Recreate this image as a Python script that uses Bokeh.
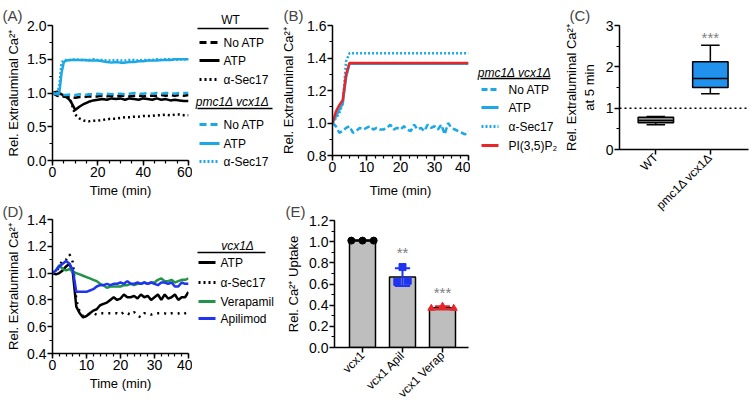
import math
from bokeh.plotting import figure
from bokeh.models import Range1d, SingleIntervalTicker, FixedTicker, NumeralTickFormatter
from bokeh.layouts import row, column
from bokeh.embed import file_html
from bokeh.resources import INLINE
from bokeh.core.properties import value

FONT = "Liberation Sans"
BLACK = "#000000"
SKY = "#1CA8E4"
RED = "#E8262A"
GREEN = "#23924A"
BLUE = "#1E34F0"
BOXBLUE = "#2092EE"
BAR_GRAY = "#BEBEBE"
STAR = "#808080"
EPS = 1e-6

# ---------------- Panel A data ----------------
a_time = [0, 2, 4, 6, 8, 10, 12, 14, 16, 18, 20, 22, 24, 26, 28, 30, 32, 34, 36, 38, 40,
          42, 44, 46, 48, 50, 52, 54, 56, 58, 60]
a_wt_noatp = [1.00, 0.96, 0.95, 0.94, 0.94, 0.93, 0.94, 0.94, 0.95, 0.95, 0.95, 0.96, 0.95, 0.96,
              0.95, 0.96, 0.96, 0.95, 0.96, 0.96, 0.95, 0.96, 0.96, 0.96, 0.97, 0.96, 0.97, 0.96,
              0.97, 0.96, 0.97]
a_wt_atp = [1.00, 1.02, 0.98, 0.95, 0.88, 0.75, 0.80, 0.84, 0.87, 0.89, 0.90, 0.91, 0.90, 0.92,
            0.91, 0.92, 0.90, 0.92, 0.91, 0.90, 0.92, 0.91, 0.90, 0.92, 0.90, 0.91, 0.89, 0.90,
            0.89, 0.88, 0.88]
a_wt_sec17 = [1.00, 0.98, 0.97, 0.95, 0.88, 0.68, 0.62, 0.59, 0.58, 0.59, 0.59, 0.60, 0.61, 0.62,
              0.62, 0.63, 0.64, 0.64, 0.65, 0.65, 0.66, 0.66, 0.66, 0.67, 0.67, 0.68, 0.67, 0.68,
              0.68, 0.67, 0.67]
a_pmc_noatp = [1.00, 0.98, 0.97, 0.97, 0.98, 0.97, 0.98, 0.97, 0.98, 0.98, 0.99, 0.98, 0.99, 0.98,
               0.99, 0.99, 0.98, 0.99, 1.00, 0.99, 0.99, 1.00, 0.99, 1.00, 0.99, 1.00, 1.00, 0.99,
               1.00, 1.00, 1.00]
a_time_fast = [0, 1, 2, 3, 4, 5, 6, 8, 10, 12, 14, 16, 18, 20, 22, 24, 26, 28, 30, 32, 34, 36,
               38, 40, 42, 44, 46, 48, 50, 52, 54, 56, 58, 60]
a_pmc_atp = [1.00, 0.99, 0.99, 1.00, 1.30, 1.46, 1.48,
             1.49, 1.49, 1.49, 1.49, 1.48, 1.48, 1.48, 1.47, 1.46, 1.45, 1.46, 1.45, 1.45, 1.46,
             1.46, 1.47, 1.47, 1.48, 1.48, 1.48, 1.49, 1.49, 1.49, 1.50, 1.50, 1.50, 1.50]
a_pmc_sec17 = [1.00, 0.99, 1.00, 1.10, 1.45, 1.49, 1.49,
               1.49, 1.50, 1.49, 1.49, 1.49, 1.50, 1.49, 1.49, 1.48, 1.48, 1.49, 1.48, 1.48, 1.49,
               1.49, 1.48, 1.49, 1.49, 1.49, 1.50, 1.49, 1.50, 1.50, 1.49, 1.50, 1.50, 1.50]
a_labels = ["No ATP", "ATP", "\u03b1-Sec17"]
a_groups = ["WT", "pmc1\u0394 vcx1\u0394"]

# ---------------- Panel B data ----------------
b_time = list(range(0, 41))
b_noatp = [1.00, 0.98, 0.94, 0.95, 0.97, 0.98, 0.94, 0.95, 0.97, 0.96, 0.97, 0.98, 0.96, 0.97,
           0.96, 0.96, 0.97, 0.99, 0.96, 0.97, 0.96, 0.98, 0.96, 0.95, 0.99, 0.96, 0.97, 0.95,
           0.99, 0.97, 0.98, 0.96, 0.99, 0.93, 1.00, 0.97, 0.96, 0.95, 0.94, 0.93, 0.95]
b_time_short = [0, 1, 2, 3, 4, 5, 40]
b_atp = [1.00, 1.04, 1.08, 1.12, 1.28, 1.365, 1.365]
b_sec17 = [1.00, 1.03, 1.06, 1.12, 1.38, 1.43, 1.43]
b_pip = [1.00, 1.07, 1.11, 1.14, 1.30, 1.37, 1.37]
b_labels = ["No ATP", "ATP", "\u03b1-Sec17", "PI(3,5)P\u2082"]
b_group = "pmc1\u0394 vcx1\u0394"

# ---------------- Panel C data ----------------
c_cats = ["WT", "pmc1\u0394 vcx1\u0394"]
c_min = [0.60, 1.35]
c_q1 = [0.65, 1.50]
c_med = [0.70, 1.72]
c_q3 = [0.78, 2.12]
c_max = [0.80, 2.52]
c_sig = ["", "***"]

# ---------------- Panel D data ----------------
d_time = list(range(0, 41))
d_atp = [1.00, 0.99, 1.00, 1.02, 1.05, 1.07, 1.00, 0.75, 0.70, 0.67, 0.68, 0.70, 0.72, 0.73,
         0.76, 0.77, 0.78, 0.80, 0.82, 0.80, 0.81, 0.84, 0.82, 0.82, 0.83, 0.81, 0.84, 0.82,
         0.83, 0.80, 0.82, 0.84, 0.80, 0.84, 0.81, 0.82, 0.84, 0.80, 0.82, 0.82, 0.86]
d_sec17 = [1.00, 1.00, 1.05, 1.10, 1.10, 1.14, 1.08, 0.80, 0.71, 0.68, 0.68, 0.70, 0.70, 0.69,
           0.70, 0.70, 0.70, 0.70, 0.70, 0.70, 0.69, 0.71, 0.70, 0.69, 0.71, 0.68, 0.67, 0.70,
           0.70, 0.69, 0.70, 0.70, 0.70, 0.70, 0.69, 0.70, 0.70, 0.70, 0.69, 0.70, 0.71]
d_verap = [1.00, 1.02, 1.06, 1.03, 1.02, 1.03, 1.01, 1.00, 0.99, 0.98, 0.97, 0.96, 0.95, 0.94,
           0.92, 0.91, 0.89, 0.90, 0.90, 0.90, 0.90, 0.91, 0.91, 0.92, 0.91, 0.92, 0.92, 0.93,
           0.92, 0.93, 0.93, 0.95, 0.96, 0.94, 0.94, 0.95, 0.93, 0.94, 0.95, 0.95, 0.96]
d_apil = [1.00, 1.02, 1.05, 1.07, 1.09, 1.07, 1.02, 0.86, 0.86, 0.86, 0.86, 0.87, 0.88, 0.90,
          0.91, 0.91, 0.92, 0.91, 0.92, 0.92, 0.93, 0.92, 0.94, 0.92, 0.92, 0.93, 0.92, 0.93,
          0.92, 0.93, 0.92, 0.91, 0.93, 0.93, 0.92, 0.93, 0.90, 0.90, 0.93, 0.92, 0.92]
d_labels = ["ATP", "\u03b1-Sec17", "Verapamil", "Apilimod"]
d_group = "vcx1\u0394"

# ---------------- Panel E data ----------------
e_cats = ["vcx1", "vcx1 Apil", "vcx1 Verap"]
e_mean = [1.01, 0.665, 0.375]
e_sd = [0.0, 0.085, 0.015]
e_pts_vcx1 = [1.01, 1.01, 1.01]
e_pts_apil = [0.62, 0.76, 0.63]
e_pts_verap = [0.37, 0.39, 0.37]
e_jit_wide = [-0.28, 0.0, 0.28]
e_jit_narrow = [-0.13, 0.0, 0.13]
e_sig = ["", "**", "***"]
e_sig_y = [None, 0.90, 0.52]


def style_axes(p, tick_size="14px", label_size="13px", label_standoff=3):
    for ax in p.axis:
        ax.axis_line_width = 1.5
        ax.axis_line_color = BLACK
        ax.major_tick_line_width = 1.5
        ax.minor_tick_line_width = 1.2
        ax.major_tick_out = 5
        ax.major_tick_in = 0
        ax.minor_tick_out = 3
        ax.minor_tick_in = 0
        ax.major_label_text_font = FONT
        ax.major_label_text_font_size = tick_size
        ax.major_label_text_color = BLACK
        ax.major_label_standoff = 1
        ax.axis_label_text_font = FONT
        ax.axis_label_text_font_style = "normal"
        ax.axis_label_text_font_size = label_size
        ax.axis_label_text_color = BLACK
        ax.axis_label_standoff = label_standoff


def base_fig(w, h, xr, yr, ml, mr, mt, mb, letter, letter_x, title_standoff=3):
    p = figure(width=w, height=h, x_range=Range1d(*xr), y_range=Range1d(*yr),
               toolbar_location=None, output_backend="svg",
               min_border_left=ml, min_border_right=mr, min_border_top=mt, min_border_bottom=mb)
    p.frame_align = False
    p.outline_line_color = None
    p.xgrid.visible = False
    p.ygrid.visible = False
    p.title.text = letter
    p.title.text_font = FONT
    p.title.text_font_size = "15px"
    p.title.text_font_style = "normal"
    p.title.align = "left"
    p.title.offset = letter_x - ml
    p.title.standoff = title_standoff
    return p


def legend_fig(w, h):
    p = figure(width=w, height=h, x_range=Range1d(0, w), y_range=Range1d(h, 0),
               toolbar_location=None, output_backend="svg", min_border=0,
               x_axis_type=None, y_axis_type=None, title=None)
    p.frame_align = False
    p.outline_line_color = None
    p.xgrid.visible = False
    p.ygrid.visible = False
    return p


def leg_text(p, x, y, t, italic=False, align="left", size="12px"):
    p.text(x=[x], y=[y], text=[t], text_font=value(FONT), text_font_size=value(size),
           text_baseline="middle", text_align=align, text_color=BLACK,
           text_font_style="italic" if italic else "normal")


def leg_line(p, x0, x1, y, color, dash="solid", width=3):
    p.line(x=[x0, x1], y=[y, y], line_color=color, line_width=width, line_dash=dash)


YLAB = "Rel. Extraluminal Ca\u00b2\u207a"

# ---------------- Panel A ----------------
pa = base_fig(192, 200, (0, 60), (0, 2.0 + EPS), 52, 4, 25, 39, "(A)", 2)
pa.line(a_time, a_wt_noatp, line_color=BLACK, line_width=2.5, line_dash="7 4")
pa.line(a_time, a_wt_atp, line_color=BLACK, line_width=2.5)
pa.line(a_time, a_wt_sec17, line_color=BLACK, line_width=2.5, line_dash="2 3")
pa.line(a_time, a_pmc_noatp, line_color=SKY, line_width=2.5, line_dash="7 4")
pa.line(a_time_fast, a_pmc_atp, line_color=SKY, line_width=2.5)
pa.line(a_time_fast, a_pmc_sec17, line_color=SKY, line_width=2.5, line_dash="2 2")
pa.xaxis.ticker = SingleIntervalTicker(interval=20, num_minor_ticks=4)
pa.yaxis.ticker = SingleIntervalTicker(interval=0.5, num_minor_ticks=2)
pa.yaxis.formatter = NumeralTickFormatter(format="0.0")
pa.xaxis.axis_label = "Time (min)"
pa.yaxis.axis_label = YLAB
style_axes(pa)

la = legend_fig(83, 200)
leg_text(la, 38, 19, a_groups[0], align="center")
leg_line(la, 5, 76, 28, BLACK, width=1.5)
for lab, y, dash in zip(a_labels, [42, 60, 79], ["7 4", "solid", "2 3"]):
    leg_line(la, 7, 27, y, BLACK, dash)
    leg_text(la, 31, y, lab)
leg_text(la, 40, 101, a_groups[1], italic=True, align="center")
leg_line(la, 5, 80, 108, BLACK, width=1.5)
for lab, y, dash in zip(a_labels, [124, 143, 161], ["7 4", "solid", "2 2"]):
    leg_line(la, 7, 27, y, SKY, dash)
    leg_text(la, 31, y, lab)

# ---------------- Panel B ----------------
pb = base_fig(195, 200, (0, 40), (0.8, 1.6 + EPS), 57, 2, 25, 40, "(B)", 8)
pb.line(b_time, b_noatp, line_color=SKY, line_width=2.5, line_dash="6 3")
pb.line(b_time_short, b_atp, line_color=SKY, line_width=2.5)
pb.line(b_time_short, b_sec17, line_color=SKY, line_width=2.5, line_dash="2 2")
pb.line(b_time_short, b_pip, line_color=RED, line_width=2.5)
pb.xaxis.ticker = SingleIntervalTicker(interval=10, num_minor_ticks=4)
pb.yaxis.ticker = SingleIntervalTicker(interval=0.2, num_minor_ticks=2)
pb.yaxis.formatter = NumeralTickFormatter(format="0.0")
pb.xaxis.axis_label = "Time (min)"
pb.yaxis.axis_label = YLAB
style_axes(pb, label_standoff=8)

lb = legend_fig(90, 200)
leg_text(lb, 44, 72, b_group, italic=True, align="center")
leg_line(lb, 10, 80, 78, BLACK, width=1.5)
for lab, y, col, dash in zip(b_labels, [89, 107, 126, 145], [SKY, SKY, SKY, RED],
                             ["6 3", "solid", "2 2", "solid"]):
    leg_line(lb, 11, 28, y, col, dash)
    leg_text(lb, 38, y, lab)

# ---------------- Panel C ----------------
c_x = [1, 2]
pc = base_fig(190, 220, (0.333, 2.70), (0, 3 + EPS), 53, 2, 25, 60, "(C)", 3)
pc.line([0.333, 2.70], [1, 1], line_color=BLACK, line_width=1.5, line_dash="2 3")
pc.segment(x0=c_x, y0=c_min, x1=c_x, y1=c_q1, line_color=BLACK, line_width=1.5)
pc.segment(x0=c_x, y0=c_q3, x1=c_x, y1=c_max, line_color=BLACK, line_width=1.5)
pc.segment(x0=[x - 0.17 for x in c_x], y0=c_min, x1=[x + 0.17 for x in c_x], y1=c_min,
           line_color=BLACK, line_width=1.5)
pc.segment(x0=[x - 0.17 for x in c_x], y0=c_max, x1=[x + 0.17 for x in c_x], y1=c_max,
           line_color=BLACK, line_width=1.5)
pc.vbar(x=c_x, bottom=c_q1, top=c_q3, width=0.65, fill_color=["#8C8C8C", BOXBLUE],
        line_color=BLACK, line_width=1.5)
pc.segment(x0=[x - 0.325 for x in c_x], y0=c_med, x1=[x + 0.325 for x in c_x], y1=c_med,
           line_color=BLACK, line_width=1.5)
pc.text(x=[c_x[1]], y=[2.72], text=[c_sig[1]], text_font=value(FONT),
        text_font_size=value("15px"), text_align="center", text_baseline="middle",
        text_color=STAR)
pc.xaxis.ticker = FixedTicker(ticks=c_x)
pc.xaxis.major_label_overrides = {x: c for x, c in zip(c_x, c_cats)}
pc.xaxis.major_label_orientation = math.pi / 4
pc.yaxis.ticker = SingleIntervalTicker(interval=1, num_minor_ticks=2)
pc.yaxis.axis_label = YLAB + "\nat 5 min"
style_axes(pc, label_standoff=6)
pc.xaxis.major_label_text_font_size = "12px"

# ---------------- Panel D ----------------
pd_ = base_fig(192, 208, (0, 40), (0.4, 1.4 + EPS), 52, 4, 18, 55, "(D)", 2, 0)
pd_.line(d_time, d_atp, line_color=BLACK, line_width=2.5)
pd_.line(d_time, d_sec17, line_color=BLACK, line_width=2.5, line_dash="2 5")
pd_.line(d_time, d_verap, line_color=GREEN, line_width=2.5)
pd_.line(d_time, d_apil, line_color=BLUE, line_width=2.5)
pd_.xaxis.ticker = SingleIntervalTicker(interval=10, num_minor_ticks=5)
pd_.yaxis.ticker = SingleIntervalTicker(interval=0.2, num_minor_ticks=2)
pd_.yaxis.formatter = NumeralTickFormatter(format="0.0")
pd_.xaxis.axis_label = "Time (min)"
pd_.yaxis.axis_label = YLAB
style_axes(pd_)

ld = legend_fig(83, 208)
leg_text(ld, 45, 45, d_group, italic=True, align="center")
leg_line(ld, 5, 73, 52, BLACK, width=1.5)
for lab, y, col, dash in zip(d_labels, [62, 82, 101, 118], [BLACK, BLACK, GREEN, BLUE],
                             ["solid", "2 3", "solid", "solid"]):
    leg_line(ld, 6, 23, y, col, dash)
    leg_text(ld, 28, y, lab)

# ---------------- Panel E ----------------
e_x = [1, 2, 3]
pe = base_fig(285, 208, (0.3, 3.65), (0, 1.2 + EPS), 59, 92, 20, 55, "(E)", 10, 1)
pe.vbar(x=e_x, top=e_mean, width=0.65, fill_color=BAR_GRAY, line_color=BLACK, line_width=1.5)
lo = [m - s for m, s in zip(e_mean, e_sd)]
hi = [m + s for m, s in zip(e_mean, e_sd)]
err_cols = [BLACK, BLUE, RED]
pe.segment(x0=e_x, y0=lo, x1=e_x, y1=hi, line_color=err_cols, line_width=2)
pe.segment(x0=[x - 0.19 for x in e_x], y0=hi, x1=[x + 0.19 for x in e_x], y1=hi,
           line_color=err_cols, line_width=2)
pe.segment(x0=[x - 0.19 for x in e_x], y0=lo, x1=[x + 0.19 for x in e_x], y1=lo,
           line_color=err_cols, line_width=2)
pe.scatter([e_x[0] + j for j in e_jit_wide], e_pts_vcx1, marker="circle", size=7,
           fill_color=BLACK, line_color=BLACK)
pe.scatter([e_x[1] + j for j in e_jit_narrow], e_pts_apil, marker="square", size=7,
           fill_color=BLUE, line_color=BLUE)
pe.scatter([e_x[2] + j for j in e_jit_wide], e_pts_verap, marker="triangle", size=7,
           fill_color=RED, line_color=RED)
pe.text(x=e_x[1:], y=e_sig_y[1:], text=e_sig[1:], text_font=value(FONT),
        text_font_size=value("15px"), text_align="center", text_baseline="middle",
        text_color=STAR)
pe.xaxis.ticker = FixedTicker(ticks=e_x)
pe.xaxis.major_label_overrides = {x: c for x, c in zip(e_x, e_cats)}
pe.xaxis.major_label_orientation = math.pi / 4
pe.yaxis.ticker = SingleIntervalTicker(interval=0.2, num_minor_ticks=2)
pe.yaxis.formatter = NumeralTickFormatter(format="0.0")
pe.yaxis.axis_label = "Rel. Ca\u00b2\u207a Uptake"
style_axes(pe, label_standoff=5)
pe.xaxis.major_label_text_font_size = "12px"

left = column(row(pa, la, pb, lb), row(pd_, ld, pe))
layout = row(left, pc)

open("out.html", "w").write(file_html(layout, INLINE))
